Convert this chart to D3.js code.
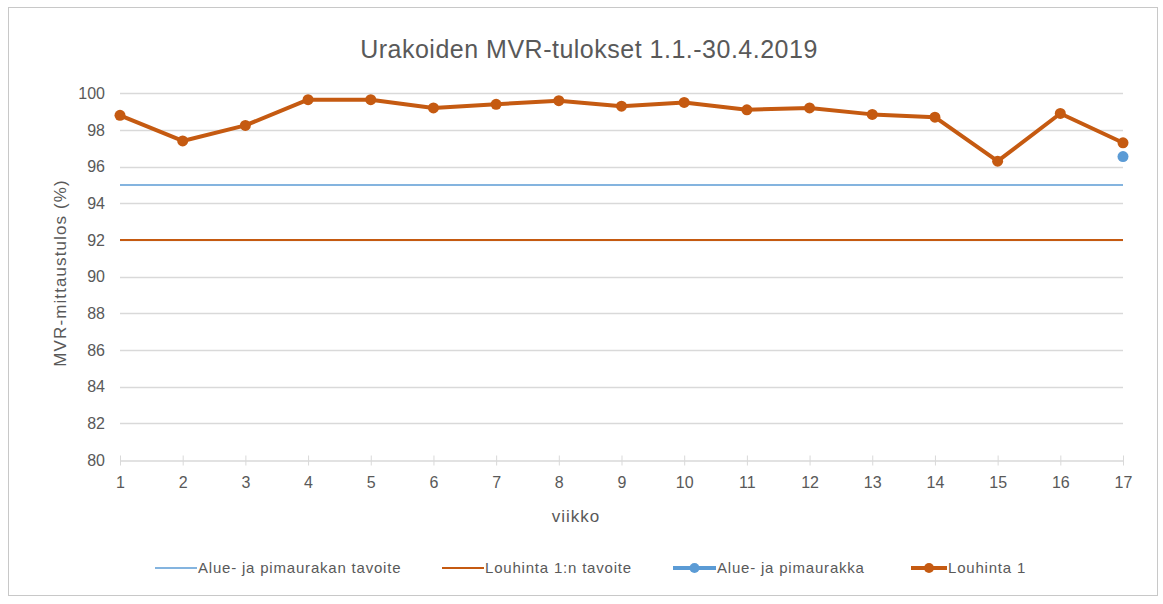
<!DOCTYPE html>
<html>
<head>
<meta charset="utf-8">
<script src="https://cdn.jsdelivr.net/npm/d3@7"></script>
<style>
  html, body { margin: 0; padding: 0; background: #fff; }
  svg { display: block; }
  text { font-family: "Liberation Sans", Arial, sans-serif; fill: #595959; }
</style>
</head>
<body>
<svg id="chart" width="1163" height="604"></svg>
<script>
// ---- data ----
const title = "Urakoiden MVR-tulokset 1.1.-30.4.2019";
const xTitle = "viikko";
const yTitle = "MVR-mittaustulos (%)";
const weeks = [1, 2, 3, 4, 5, 6, 7, 8, 9, 10, 11, 12, 13, 14, 15, 16, 17];
const yTicks = [80, 82, 84, 86, 88, 90, 92, 94, 96, 98, 100];
const louhinta1 = [98.8, 97.4, 98.25, 99.65, 99.65, 99.2, 99.4, 99.6, 99.3, 99.5, 99.1, 99.2, 98.85, 98.7, 96.3, 98.9, 97.3];
const alueWeeks = [17];
const alueValues = [96.55];
const alueTarget = 95;
const louhintaTarget = 92;
const legendLabels = ["Alue- ja pimaurakan tavoite", "Louhinta 1:n tavoite", "Alue- ja pimaurakka", "Louhinta 1"];

// ---- drawing ----
const blue = "#5b9bd5", orange = "#c55a11", grid = "#d9d9d9";
const svg = d3.select("#chart");

svg.append("rect").attr("x", 8.5).attr("y", 7.5).attr("width", 1149).attr("height", 588)
  .attr("fill", "#fff").attr("stroke", "#c8c8c8").attr("stroke-width", 1);

const x = d3.scaleLinear().domain([1, 17]).range([120, 1123]);
const y = d3.scaleLinear().domain([80, 100]).range([460, 93.3]);

// gridlines
svg.append("g").selectAll("line").data(yTicks.filter(d => d > 80)).join("line")
  .attr("x1", x(1)).attr("x2", x(17))
  .attr("y1", d => Math.round(y(d)) + 0.5).attr("y2", d => Math.round(y(d)) + 0.5)
  .attr("stroke", grid).attr("stroke-width", 1.3);

// y axis labels
const yAxis = d3.axisLeft(y).tickValues(yTicks).tickSize(0).tickPadding(15);
const gy = svg.append("g").attr("transform", `translate(${x(1)},0)`).call(yAxis);
gy.select(".domain").remove();
gy.selectAll("text").style("font-size", "16px").style("font-family", null).attr("fill", "#595959");

// x axis
const xAxis = d3.axisBottom(x).tickValues(weeks).tickFormat(d3.format("d")).tickSizeInner(5).tickSizeOuter(0).tickPadding(11);
const gx = svg.append("g").attr("transform", `translate(0,${Math.round(y(80)) + 0.5})`).call(xAxis);
gx.select(".domain").attr("stroke", grid).attr("stroke-width", 1.3);
gx.selectAll(".tick line").attr("stroke", grid).attr("y1", -5).attr("y2", 5);
gx.selectAll("text").style("font-size", "16px").attr("fill", "#595959");
gy.attr("font-family", null); gx.attr("font-family", null);

// target lines
svg.append("line").attr("x1", x(1)).attr("x2", x(17)).attr("y1", y(alueTarget)).attr("y2", y(alueTarget))
  .attr("stroke", blue).attr("stroke-width", 1.5);
svg.append("line").attr("x1", x(1)).attr("x2", x(17)).attr("y1", y(louhintaTarget)).attr("y2", y(louhintaTarget))
  .attr("stroke", orange).attr("stroke-width", 1.8);

// Louhinta 1 line
const line = d3.line().x((d, i) => x(weeks[i])).y(d => y(d));
svg.append("path").datum(louhinta1).attr("d", line).attr("fill", "none")
  .attr("stroke", orange).attr("stroke-width", 4).attr("stroke-linejoin", "round");
svg.append("g").selectAll("circle").data(louhinta1).join("circle")
  .attr("cx", (d, i) => x(weeks[i])).attr("cy", d => y(d)).attr("r", 5.5).attr("fill", orange);

// Alue point
svg.append("g").selectAll("circle").data(alueValues).join("circle")
  .attr("cx", (d, i) => x(alueWeeks[i])).attr("cy", d => y(d)).attr("r", 5.5).attr("fill", blue);

// titles
svg.append("text").attr("x", 589).attr("y", 58).attr("text-anchor", "middle")
  .style("font-size", "25px").style("letter-spacing", "0.5px").text(title);
svg.append("text").attr("x", 576).attr("y", 522).attr("text-anchor", "middle")
  .style("font-size", "17px").style("letter-spacing", "1px").text(xTitle);
svg.append("text").attr("transform", "translate(66,273) rotate(-90)").attr("text-anchor", "middle")
  .style("font-size", "17px").style("letter-spacing", "1.1px").text(yTitle);

// legend
const legendY = 568;
const legendItems = [
  { x0: 155, x1: 197, color: blue, width: 1.5, marker: false },
  { x0: 442, x1: 484, color: orange, width: 1.8, marker: false },
  { x0: 673, x1: 716, color: blue, width: 4, marker: true },
  { x0: 911, x1: 947, color: orange, width: 4, marker: true }
];
const lg = svg.append("g").selectAll("g").data(legendLabels).join("g");
lg.append("line").attr("x1", (d, i) => legendItems[i].x0).attr("x2", (d, i) => legendItems[i].x1)
  .attr("y1", legendY).attr("y2", legendY)
  .attr("stroke", (d, i) => legendItems[i].color).attr("stroke-width", (d, i) => legendItems[i].width);
lg.filter((d, i) => legendItems[i].marker).append("circle")
  .attr("cx", d => { const k = legendLabels.indexOf(d); return (legendItems[k].x0 + legendItems[k].x1) / 2; })
  .attr("cy", legendY).attr("r", 5)
  .attr("fill", d => legendItems[legendLabels.indexOf(d)].color);
lg.append("text").attr("x", (d, i) => legendItems[i].x1 + 1).attr("y", legendY + 5)
  .style("font-size", "15px").style("letter-spacing", "0.8px").text(d => d);
</script>
</body>
</html>
